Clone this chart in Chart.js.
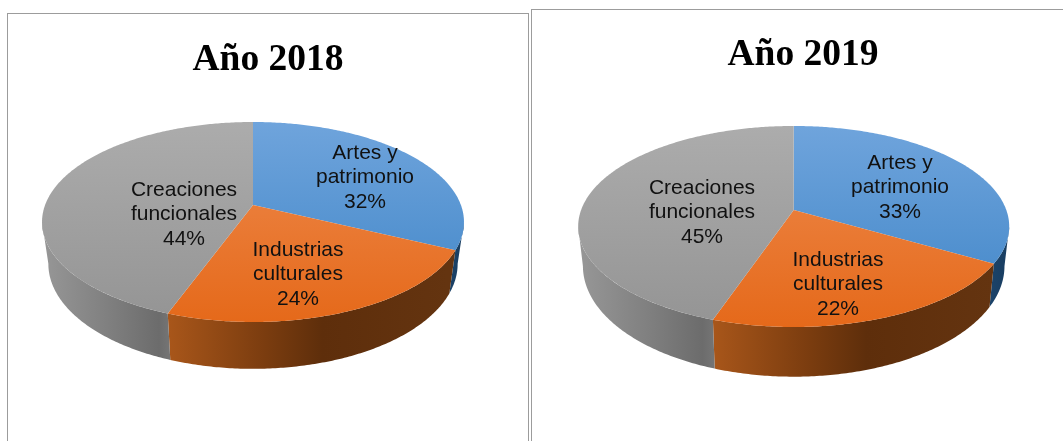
<!DOCTYPE html>
<html><head><meta charset="utf-8">
<script src="https://cdn.jsdelivr.net/npm/chart.js@4"></script>
<style>
html,body{margin:0;padding:0;background:#fff;width:1063px;height:441px;overflow:hidden}
.p{position:absolute;box-sizing:border-box;border:1px solid #9c9c9c;background:#fff}
#a{left:7px;top:13px;width:522px;height:440px}
#b{left:531px;top:9px;width:544px;height:444px}
canvas{display:block;position:absolute;left:0;top:0}
</style></head><body>
<div class="p" id="a"><canvas id="c1" width="520" height="438"></canvas></div>
<div class="p" id="b"><canvas id="c2" width="542" height="442"></canvas></div>
<script>
const categories = [['Artes y','patrimonio'],['Industrias','culturales'],['Creaciones','funcionales']];
const values2018 = [32.1, 23.5, 44.4];
const values2019 = [33.4, 21.8, 44.8];
const titles = ['Año 2018','Año 2019'];

const topColors = [['#6fa4dc','#3f85c7'],['#ee8b4f','#e5691a'],['#acacac','#949494']];
const sideColors = [
  [[0,'#1d4a74'],[1,'#1a3f63']],
  [[0,'#a8561a'],[0.35,'#7a3c0f'],[0.55,'#5e2e0b'],[1,'#643410']],
  [[0,'#969696'],[0.5,'#808080'],[0.92,'#6c6c6c'],[1,'#747474']]
];

function project(g,a,lower){
  const u=Math.cos(a),v=Math.sin(a),d=1-g.k*v;
  const sx=lower?g.sx:1,sy=lower?g.sy:1,dy=lower?g.dy:0;
  return [g.cx+sx*g.A*u/d, g.cy+dy+sy*g.S*v/d];
}
function arcPath(ctx,g,a0,a1,lower,first){
  const n=Math.max(2,Math.ceil(Math.abs(a1-a0)*90));
  for(let i=0;i<=n;i++){
    const p=project(g,a0+(a1-a0)*i/n,lower);
    if(i===0&&first)ctx.moveTo(p[0],p[1]);else ctx.lineTo(p[0],p[1]);
  }
}
const pie3d={
  id:'pie3d',
  beforeDatasetDraw(chart){
    const g=chart.options.plugins.pie3d,ctx=chart.ctx,arcs=chart.getDatasetMeta(0).data;
    const aR=Math.asin(g.k),aL=Math.PI-aR;   // silhouette angles of the projected rim
    ctx.save();
    arcs.forEach((arc,i)=>{
      const a0=Math.max(arc.startAngle,aR),a1=Math.min(arc.endAngle,aL);
      if(a1<=a0)return;
      const lg=ctx.createLinearGradient(g.sideX[i][0],0,g.sideX[i][1],0);
      sideColors[i].forEach(s=>lg.addColorStop(s[0],s[1]));
      ctx.beginPath();
      arcPath(ctx,g,a0,a1,false,true);
      arcPath(ctx,g,a1,a0,true,false);
      ctx.closePath();
      ctx.fillStyle=lg;ctx.fill();
    });
    arcs.forEach((arc,i)=>{
      const lg=ctx.createLinearGradient(0,g.cy-g.S/(1+g.k),0,g.cy+g.S/(1-g.k));
      lg.addColorStop(0,topColors[i][0]);lg.addColorStop(1,topColors[i][1]);
      ctx.beginPath();
      ctx.moveTo(g.cx,g.cy);
      arcPath(ctx,g,arc.startAngle,arc.endAngle,false,false);
      ctx.closePath();
      ctx.fillStyle=lg;ctx.fill();
    });
    ctx.restore();
    return false;
  },
  afterDatasetsDraw(chart){
    const g=chart.options.plugins.pie3d,ctx=chart.ctx,ds=chart.data.datasets[0];
    ctx.save();
    ctx.font='21px "Liberation Sans"';ctx.fillStyle='#111';ctx.textAlign='center';ctx.textBaseline='middle';
    chart.data.labels.forEach((lab,i)=>{
      const [x,y]=g.labelAt[i];
      lab.concat([Math.round(ds.data[i])+'%']).forEach((t,j)=>ctx.fillText(t,x,y+j*24.7));
    });
    ctx.restore();
  }
};
function make(id,title,values,geom,pad){
  new Chart(document.getElementById(id),{
    type:'pie',
    data:{labels:categories,datasets:[{data:values,backgroundColor:topColors.map(c=>c[1]),borderWidth:0}]},
    options:{responsive:false,animation:false,
      plugins:{legend:{display:false},tooltip:{enabled:false},
        title:{display:true,text:title,color:'#000',font:{family:'"Liberation Serif"',size:37.5,weight:'bold'},padding:{top:pad,bottom:10}},
        pie3d:geom}},
    plugins:[pie3d]
  });
}
// canvas origin: panel left/top + 1px border
make('c1',titles[0],values2018,{cx:245,cy:191,A:207.9,S:97.1,k:0.17,sx:0.97,sy:1.05,dy:41,
  sideX:[[420,450],[161,440],[37,161]],labelAt:[[357,139],[290,236],[176,176]]},24);
make('c2',titles[1],values2019,{cx:261.7,cy:200,A:212.6,S:97.8,k:0.164,sx:0.978,sy:1.10,dy:38,
  sideX:[[440,470],[181,460],[50,181]],labelAt:[[368,153],[306,250],[170,178]]},23);
</script>
</body></html>
